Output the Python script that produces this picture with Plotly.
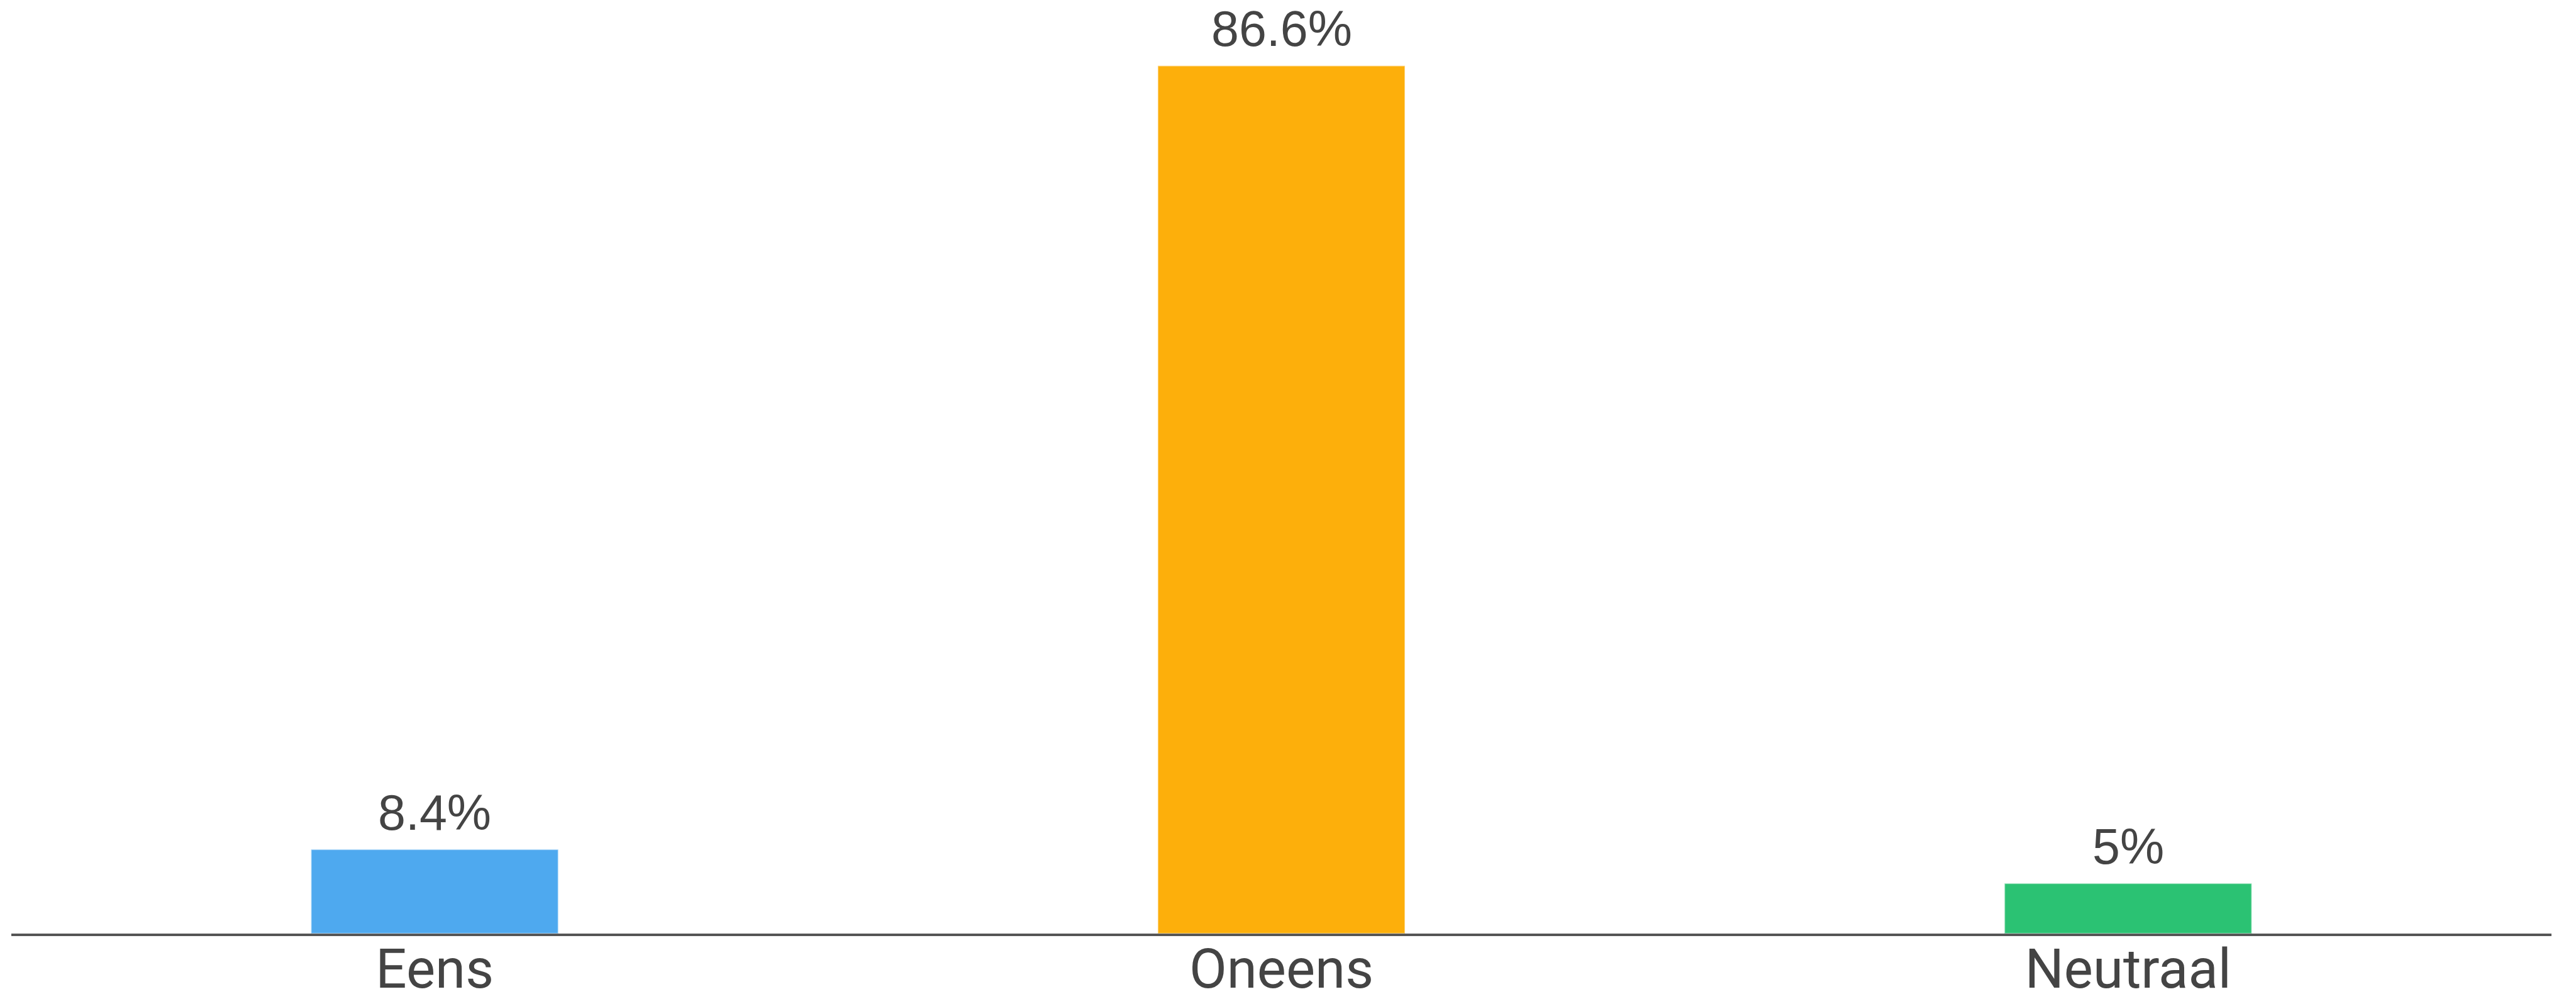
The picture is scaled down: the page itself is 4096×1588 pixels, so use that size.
import plotly.graph_objects as go

categories = ["Eens", "Oneens", "Neutraal"]
values = [8.4, 86.6, 5.0]
labels = ["8.4%", "86.6%", "5%"]
colors = ["#4EA9EF", "#FDAF0B", "#2BC273"]

fig = go.Figure()
fig.add_trace(go.Bar(
    x=categories, y=values,
    marker=dict(color=colors, line=dict(color="rgba(255,255,255,0.5)", width=2)),
    hoverinfo="skip",
))

for c, v, t in zip(categories, values, labels):
    fig.add_annotation(x=c, y=v, text=t, showarrow=False, yanchor="bottom",
                       yshift=12, font=dict(family="Liberation Sans, Arial, sans-serif", size=79, color="#444444"))

fig.update_layout(
    width=4096, height=1588,
    margin=dict(l=10, r=47, t=12, b=112),
    paper_bgcolor="white", plot_bgcolor="white",
    bargap=0.708,
    showlegend=False,
    xaxis=dict(showline=True, linecolor="#555555", linewidth=4, showgrid=False,
               zeroline=False, ticks="", automargin=False, ticklabelstandoff=-22,
               tickfont=dict(family="Roboto, sans-serif", size=87, color="#444444")),
    yaxis=dict(visible=False, range=[0, 91.9], showgrid=False, zeroline=False, automargin=False),
)

fig.write_html("out.html")
